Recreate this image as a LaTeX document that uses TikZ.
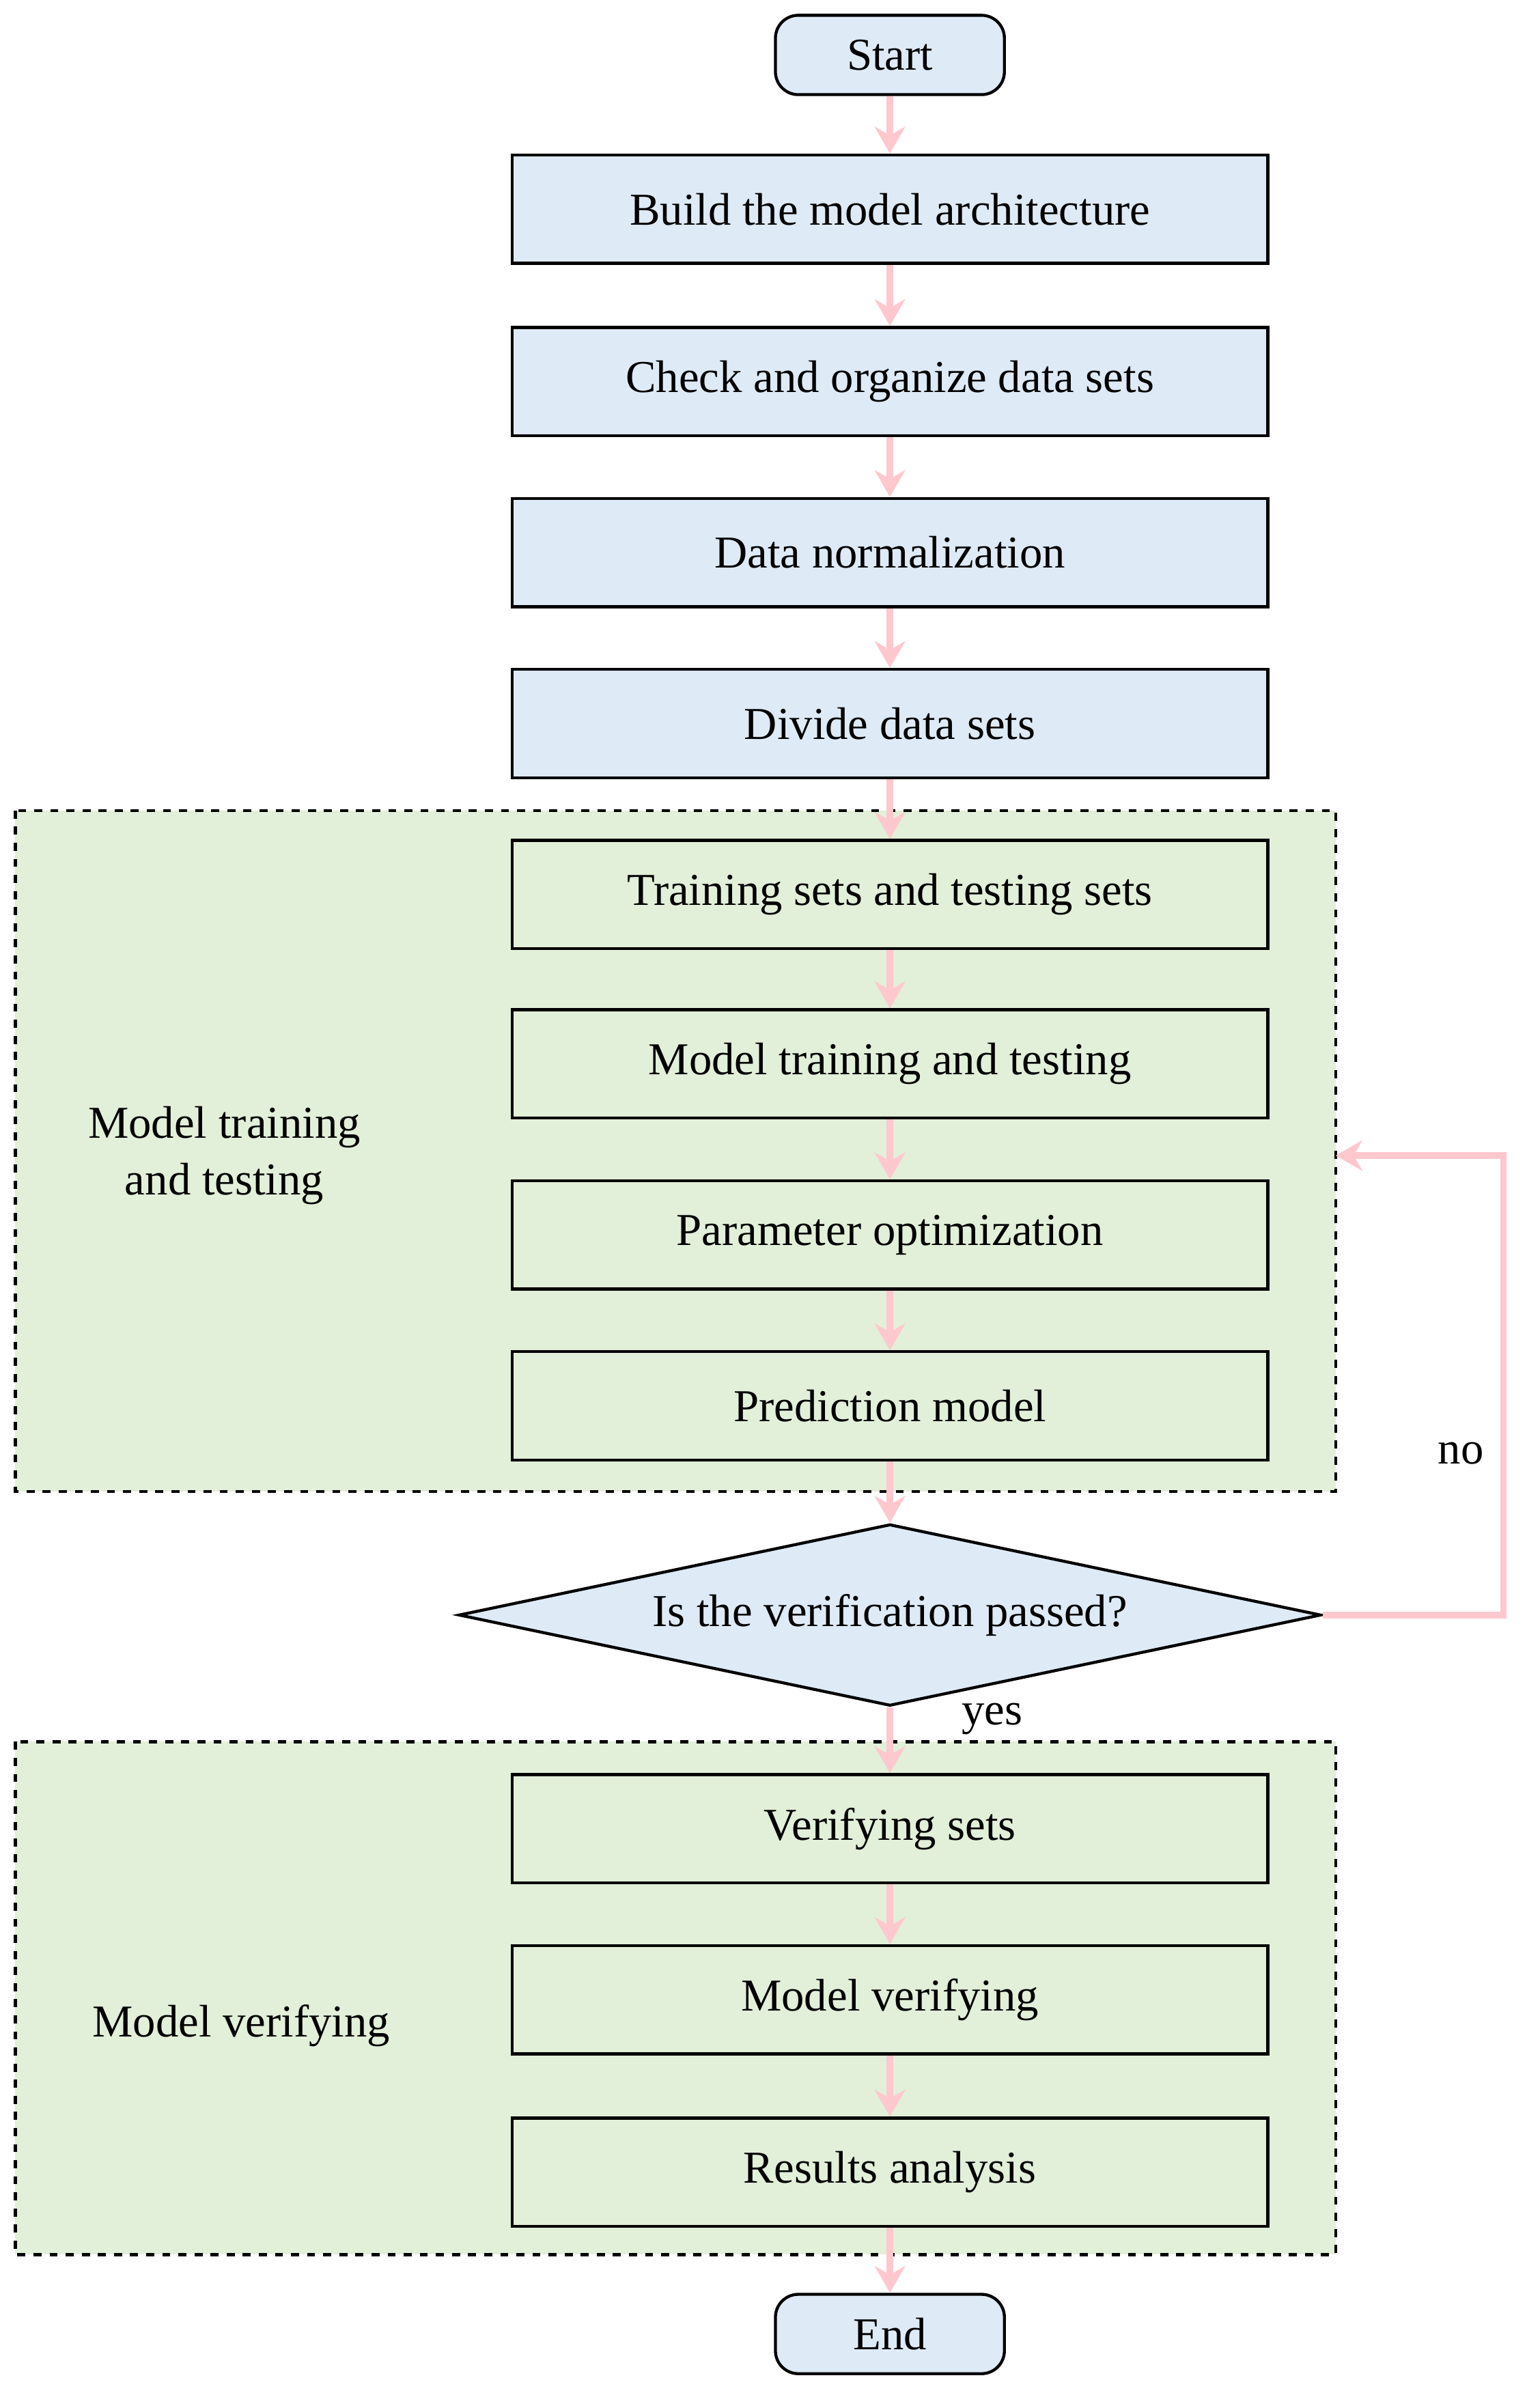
\documentclass[tikz,border=0pt]{standalone}
\usepackage{fontspec}
\setmainfont{Liberation Serif}
\usetikzlibrary{arrows.meta,shapes.geometric}
\definecolor{boxblue}{RGB}{222,234,246}
\definecolor{boxgreen}{RGB}{226,239,217}
\definecolor{flowpink}{RGB}{255,199,206}
\tikzset{
  stepbox/.style={draw,line width=1.1pt,minimum width=9.9cm,minimum height=1.42cm,font=\fontsize{17}{20}\selectfont},
  term/.style={draw,line width=1.1pt,rounded corners=0.3cm,fill=boxblue,minimum width=3cm,minimum height=1.04cm,font=\fontsize{17}{20}\selectfont},
  group/.style={draw,dashed,line width=1.1pt,fill=boxgreen},
  flow/.style={draw=flowpink,line width=2.4pt,-{Stealth[length=0.35cm,width=0.4cm]}},
  lbl/.style={font=\fontsize{17}{21}\selectfont,align=center}
}
\begin{document}
\begin{tikzpicture}
\useasboundingbox (0,0) rectangle (20,-31.55);
% groups
\draw[group] (0.2,-10.62) rectangle (17.5,-19.54);
\draw[group] (0.2,-22.82) rectangle (17.5,-29.54);
\node[lbl] (g1) at (2.94,-15.14) {Model training\\and testing};
\node[lbl] (g2) at (3.16,-26.54) {Model verifying};
% steps
\node[term] (start) at (11.66,-0.72) {Start};
\node[stepbox,fill=boxblue] (build) at (11.66,-2.74) {Build the model architecture};
\node[stepbox,fill=boxblue] (check) at (11.66,-5.0) {Check and organize data sets};
\node[stepbox,fill=boxblue] (norm) at (11.66,-7.24) {Data normalization};
\node[stepbox,fill=boxblue] (divide) at (11.66,-9.48) {Divide data sets};
\node[stepbox,fill=boxgreen] (train) at (11.66,-11.72) {Training sets and testing sets};
\node[stepbox,fill=boxgreen] (mtrain) at (11.66,-13.94) {Model training and testing};
\node[stepbox,fill=boxgreen] (param) at (11.66,-16.18) {Parameter optimization};
\node[stepbox,fill=boxgreen] (pred) at (11.66,-18.42) {Prediction model};
\node[draw,diamond,aspect=4.75,inner sep=0pt,minimum width=11.3cm,minimum height=2.38cm,line width=1.1pt,fill=boxblue,font=\fontsize{17}{20}\selectfont] (verif) at (11.66,-21.16) {Is the verification passed?};
\node[stepbox,fill=boxgreen] (vsets) at (11.66,-23.96) {Verifying sets};
\node[stepbox,fill=boxgreen] (mver) at (11.66,-26.2) {Model verifying};
\node[stepbox,fill=boxgreen] (res) at (11.66,-28.46) {Results analysis};
\node[term] (end) at (11.66,-30.58) {End};
\coordinate (loopa) at (19.7,-21.16);
\coordinate (loopb) at (19.7,-15.14);
\coordinate (g1e) at (17.5,-15.14);
% connectors
\foreach \a/\b in {start/build,build/check,check/norm,norm/divide,divide/train,train/mtrain,mtrain/param,param/pred,pred/verif,verif/vsets,vsets/mver,mver/res,res/end}
  \draw[flow] (\a.south) -- (\b.north);
\draw[flow] (verif.east) -- (loopa) -- (loopb) -- (g1e);
\node[lbl] (no) at (19.14,-19.04) {no};
\node[lbl] (yes) at (13.0,-22.52) {yes};
\end{tikzpicture}
\end{document}
